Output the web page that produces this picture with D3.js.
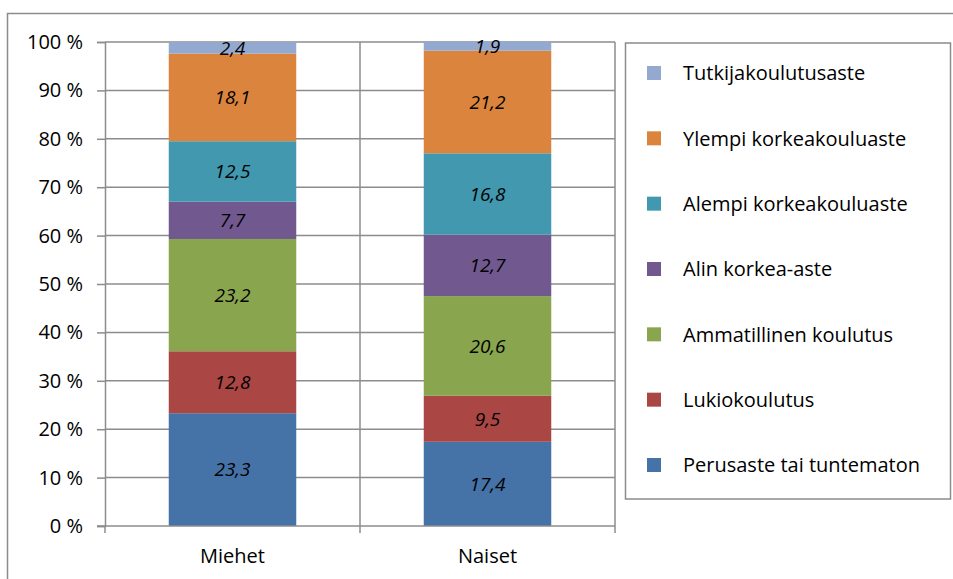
<!DOCTYPE html>
<html>
<head>
<meta charset="utf-8">
<script src="https://cdn.jsdelivr.net/npm/d3@7"></script>
<style>
  body { margin: 0; background: #fff; }
  svg { display: block; font-family: "Open Sans", "Noto Sans", sans-serif; }
</style>
</head>
<body>
<svg id="chart" width="953" height="579"></svg>
<script>
// data, bottom to top
const categories = ["Miehet", "Naiset"];
const seriesNames = ["Perusaste tai tuntematon", "Lukiokoulutus", "Ammatillinen koulutus",
  "Alin korkea-aste", "Alempi korkeakouluaste", "Ylempi korkeakouluaste", "Tutkijakoulutusaste"];
const miehet = [23.3, 12.8, 23.2, 7.7, 12.5, 18.1, 2.4];
const naiset = [17.4, 9.5, 20.6, 12.7, 16.8, 21.2, 1.9];
const colors = ["#4572a7", "#aa4643", "#89a54e", "#71588f", "#4198af", "#db843d", "#93a9cf"];
const yTicks = [0, 10, 20, 30, 40, 50, 60, 70, 80, 90, 100];

const svg = d3.select("#chart");
const grid = "#8c8c8c";

// outer chart frame
svg.append("rect").attr("x", 7.5).attr("y", 13.5).attr("width", 960).attr("height", 600)
  .attr("fill", "none").attr("stroke", grid).attr("stroke-width", 1.5);

const plot = { left: 105, right: 615, top: 42, bottom: 526 };
const x = d3.scaleBand().domain(categories).range([plot.left, plot.right]).paddingInner(0).paddingOuter(0);
const y = d3.scaleLinear().domain([0, 100]).range([plot.bottom, plot.top]);

// horizontal gridlines
svg.append("g").selectAll("line").data(yTicks.filter(d => d > 0)).join("line")
  .attr("x1", plot.left).attr("x2", plot.right)
  .attr("y1", d => y(d)).attr("y2", d => y(d))
  .attr("stroke", grid).attr("stroke-width", 1.5);

// vertical gridlines at category boundaries
svg.append("g").selectAll("line").data(categories).join("line")
  .attr("x1", d => x(d) + x.bandwidth()).attr("x2", d => x(d) + x.bandwidth())
  .attr("y1", plot.top).attr("y2", plot.bottom)
  .attr("stroke", grid).attr("stroke-width", 1.5);

// stacked bars
const rows = categories.map((c, i) => {
  const vals = i === 0 ? miehet : naiset;
  const r = { cat: c };
  seriesNames.forEach((s, j) => r[s] = vals[j]);
  return r;
});
const stacked = d3.stack().keys(seriesNames)(rows);
const barW = x.bandwidth() * 0.5;

const layers = svg.append("g").selectAll("g").data(stacked).join("g")
  .attr("fill", (d, i) => colors[i]);
layers.selectAll("rect").data(d => d).join("rect")
  .attr("x", d => x(d.data.cat) + (x.bandwidth() - barW) / 2)
  .attr("width", barW)
  .attr("y", d => y(d[1]))
  .attr("height", d => y(d[0]) - y(d[1]));

// value labels
layers.selectAll("text").data(d => d.map(v => ({ v, key: d.key }))).join("text")
  .attr("x", d => x(d.v.data.cat) + x.bandwidth() / 2)
  .attr("y", d => y((d.v[0] + d.v[1]) / 2))
  .attr("dy", "0.36em")
  .attr("text-anchor", "middle")
  .attr("font-style", "italic")
  .attr("font-size", 19)
  .attr("fill", "#000")
  .text(d => d3.format(".1f")(d.v.data[d.key]).replace(".", ","));

// axes
const yAxis = svg.append("g").attr("transform", `translate(${plot.left},0)`)
  .call(d3.axisLeft(y).tickValues(yTicks).tickSize(8).tickPadding(14).tickFormat(d => d + " %"));
yAxis.select(".domain").attr("stroke", grid).attr("stroke-width", 1.5);
yAxis.selectAll(".tick line").attr("stroke", grid).attr("stroke-width", 1.5);
yAxis.selectAll("text").attr("font-size", 20).attr("fill", "#000").attr("font-family", "Open Sans, sans-serif");

const xAxisG = svg.append("g").attr("transform", `translate(0,${plot.bottom})`);
xAxisG.append("line").attr("x1", plot.left - 8).attr("x2", plot.right)
  .attr("stroke", grid).attr("stroke-width", 1.5);
const bounds = [plot.left].concat(categories.map(c => x(c) + x.bandwidth()));
xAxisG.selectAll("line.t").data(bounds).join("line").attr("class", "t")
  .attr("x1", d => d).attr("x2", d => d).attr("y1", 0).attr("y2", 7)
  .attr("stroke", grid).attr("stroke-width", 1.5);
xAxisG.selectAll("text").data(categories).join("text")
  .attr("x", d => x(d) + x.bandwidth() / 2).attr("y", 37)
  .attr("text-anchor", "middle").attr("font-size", 20).text(d => d);

// legend, top entry first
const legend = svg.append("g");
legend.append("rect").attr("x", 625.5).attr("y", 43).attr("width", 325).attr("height", 456)
  .attr("fill", "#fff").attr("stroke", grid).attr("stroke-width", 1.5);
const legendItems = seriesNames.map((s, i) => ({ s, c: colors[i] })).reverse();
const ly = d3.scalePoint().domain(legendItems.map(d => d.s)).range([73, 465]);
const li = legend.selectAll("g.item").data(legendItems).join("g").attr("class", "item")
  .attr("transform", d => `translate(0,${ly(d.s)})`);
li.append("rect").attr("x", 647).attr("y", -7).attr("width", 14).attr("height", 14).attr("fill", d => d.c);
li.append("text").attr("x", 683).attr("dy", "0.36em").attr("font-size", 20).text(d => d.s);
</script>
</body>
</html>
